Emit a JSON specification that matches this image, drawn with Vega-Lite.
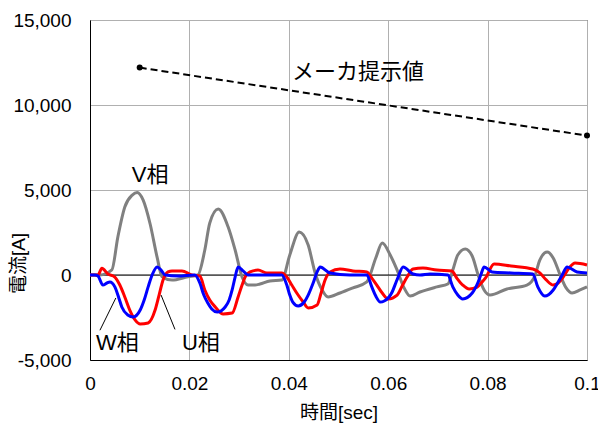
{
  "$schema": "https://vega.github.io/schema/vega-lite/v6.json",
  "width": 497,
  "height": 340,
  "autosize": "none",
  "padding": {"left": 90, "top": 20, "right": 11, "bottom": 66},
  "background": "white",
  "config": {
    "view": {"stroke": "#222", "strokeWidth": 1},
    "font": "Liberation Sans, Noto Sans CJK JP"
  },
  "datasets": {
    "waves": [
      {"s": "V", "t": 0, "y": 0}, {"s": "V", "t": 0.002, "y": 0}, {"s": "V", "t": 0.0044, "y": 300}, {"s": "V", "t": 0.0056, "y": 2230}, {"s": "V", "t": 0.007, "y": 4000}, {"s": "V", "t": 0.0085, "y": 4700}, {"s": "V", "t": 0.0095, "y": 4850}, {"s": "V", "t": 0.0107, "y": 4400}, {"s": "V", "t": 0.0121, "y": 3000}, {"s": "V", "t": 0.0135, "y": 1050}, {"s": "V", "t": 0.0145, "y": -100}, {"s": "V", "t": 0.0165, "y": -300}, {"s": "V", "t": 0.0197, "y": -100}, {"s": "V", "t": 0.0217, "y": 0},
      {"s": "V", "t": 0.0231, "y": 1470}, {"s": "V", "t": 0.0241, "y": 3060}, {"s": "V", "t": 0.0258, "y": 3880}, {"s": "V", "t": 0.0278, "y": 2820}, {"s": "V", "t": 0.0292, "y": 1470}, {"s": "V", "t": 0.0306, "y": -120}, {"s": "V", "t": 0.0318, "y": -590}, {"s": "V", "t": 0.0332, "y": -590}, {"s": "V", "t": 0.0342, "y": -530}, {"s": "V", "t": 0.0362, "y": -350}, {"s": "V", "t": 0.0386, "y": -300},
      {"s": "V", "t": 0.0402, "y": 1180}, {"s": "V", "t": 0.0421, "y": 2530}, {"s": "V", "t": 0.0439, "y": 1760}, {"s": "V", "t": 0.0453, "y": 120}, {"s": "V", "t": 0.0467, "y": -880}, {"s": "V", "t": 0.0479, "y": -1290}, {"s": "V", "t": 0.0503, "y": -1060}, {"s": "V", "t": 0.0529, "y": -760}, {"s": "V", "t": 0.0557, "y": -410},
      {"s": "V", "t": 0.0575, "y": 1000}, {"s": "V", "t": 0.0588, "y": 1880}, {"s": "V", "t": 0.0604, "y": 1180}, {"s": "V", "t": 0.0618, "y": 290}, {"s": "V", "t": 0.0632, "y": -760}, {"s": "V", "t": 0.0644, "y": -1240}, {"s": "V", "t": 0.0664, "y": -1000}, {"s": "V", "t": 0.0698, "y": -700}, {"s": "V", "t": 0.072, "y": -530},
      {"s": "V", "t": 0.073, "y": 290}, {"s": "V", "t": 0.074, "y": 1180}, {"s": "V", "t": 0.0755, "y": 1530}, {"s": "V", "t": 0.0769, "y": 1120}, {"s": "V", "t": 0.0781, "y": 0}, {"s": "V", "t": 0.0793, "y": -880}, {"s": "V", "t": 0.0805, "y": -1180}, {"s": "V", "t": 0.0839, "y": -820}, {"s": "V", "t": 0.0879, "y": -590},
      {"s": "V", "t": 0.0895, "y": -60}, {"s": "V", "t": 0.0905, "y": 880}, {"s": "V", "t": 0.092, "y": 1350}, {"s": "V", "t": 0.0932, "y": 1000}, {"s": "V", "t": 0.0946, "y": 0}, {"s": "V", "t": 0.0958, "y": -760}, {"s": "V", "t": 0.097, "y": -1060}, {"s": "V", "t": 0.0986, "y": -880}, {"s": "V", "t": 0.1, "y": -700},

      {"s": "U", "t": 0, "y": 0}, {"s": "U", "t": 0.0016, "y": 0}, {"s": "U", "t": 0.0024, "y": 400}, {"s": "U", "t": 0.0036, "y": 60}, {"s": "U", "t": 0.005, "y": -120}, {"s": "U", "t": 0.006, "y": -590}, {"s": "U", "t": 0.007, "y": -1290}, {"s": "U", "t": 0.008, "y": -2060}, {"s": "U", "t": 0.0091, "y": -2650}, {"s": "U", "t": 0.0101, "y": -2880}, {"s": "U", "t": 0.0117, "y": -2820}, {"s": "U", "t": 0.0131, "y": -2060}, {"s": "U", "t": 0.0139, "y": -1180}, {"s": "U", "t": 0.0147, "y": -290}, {"s": "U", "t": 0.0157, "y": 180}, {"s": "U", "t": 0.0165, "y": 240}, {"s": "U", "t": 0.0185, "y": 240}, {"s": "U", "t": 0.0205, "y": 0}, {"s": "U", "t": 0.0221, "y": -60},
      {"s": "U", "t": 0.0231, "y": -880}, {"s": "U", "t": 0.0241, "y": -1470}, {"s": "U", "t": 0.0252, "y": -1880}, {"s": "U", "t": 0.0268, "y": -2290}, {"s": "U", "t": 0.0286, "y": -2240}, {"s": "U", "t": 0.0298, "y": -1290}, {"s": "U", "t": 0.0306, "y": -590}, {"s": "U", "t": 0.0312, "y": -120}, {"s": "U", "t": 0.0322, "y": 180}, {"s": "U", "t": 0.0338, "y": 290}, {"s": "U", "t": 0.0356, "y": 120}, {"s": "U", "t": 0.0386, "y": 120},
      {"s": "U", "t": 0.0396, "y": -120}, {"s": "U", "t": 0.0406, "y": -590}, {"s": "U", "t": 0.0416, "y": -1060}, {"s": "U", "t": 0.0429, "y": -1590}, {"s": "U", "t": 0.0439, "y": -1940}, {"s": "U", "t": 0.0457, "y": -1760}, {"s": "U", "t": 0.0465, "y": -1060}, {"s": "U", "t": 0.0473, "y": -290}, {"s": "U", "t": 0.0483, "y": 180}, {"s": "U", "t": 0.0503, "y": 350}, {"s": "U", "t": 0.0529, "y": 240}, {"s": "U", "t": 0.0557, "y": 180},
      {"s": "U", "t": 0.0567, "y": -180}, {"s": "U", "t": 0.0577, "y": -590}, {"s": "U", "t": 0.0588, "y": -1060}, {"s": "U", "t": 0.06, "y": -1410}, {"s": "U", "t": 0.0618, "y": -1180}, {"s": "U", "t": 0.0628, "y": -650}, {"s": "U", "t": 0.0638, "y": -120}, {"s": "U", "t": 0.065, "y": 350}, {"s": "U", "t": 0.067, "y": 410}, {"s": "U", "t": 0.0698, "y": 290}, {"s": "U", "t": 0.0728, "y": 240},
      {"s": "U", "t": 0.0738, "y": -180}, {"s": "U", "t": 0.075, "y": -590}, {"s": "U", "t": 0.0763, "y": -820}, {"s": "U", "t": 0.0779, "y": -710}, {"s": "U", "t": 0.0789, "y": -410}, {"s": "U", "t": 0.0797, "y": -120}, {"s": "U", "t": 0.0813, "y": 650}, {"s": "U", "t": 0.0847, "y": 530}, {"s": "U", "t": 0.0891, "y": 350},
      {"s": "U", "t": 0.0905, "y": 120}, {"s": "U", "t": 0.0918, "y": -290}, {"s": "U", "t": 0.0932, "y": -590}, {"s": "U", "t": 0.0942, "y": -470}, {"s": "U", "t": 0.0952, "y": -120}, {"s": "U", "t": 0.0964, "y": 410}, {"s": "U", "t": 0.0976, "y": 700}, {"s": "U", "t": 0.1, "y": 590},

      {"s": "W", "t": 0, "y": 0}, {"s": "W", "t": 0.001, "y": 0}, {"s": "W", "t": 0.0016, "y": -60}, {"s": "W", "t": 0.0026, "y": -590}, {"s": "W", "t": 0.0034, "y": -470}, {"s": "W", "t": 0.004, "y": -410}, {"s": "W", "t": 0.005, "y": -700}, {"s": "W", "t": 0.0058, "y": -1350}, {"s": "W", "t": 0.0064, "y": -1880}, {"s": "W", "t": 0.0076, "y": -2350}, {"s": "W", "t": 0.0087, "y": -2470}, {"s": "W", "t": 0.0101, "y": -2060}, {"s": "W", "t": 0.0109, "y": -1470}, {"s": "W", "t": 0.0117, "y": -700}, {"s": "W", "t": 0.0125, "y": 0}, {"s": "W", "t": 0.0135, "y": 470}, {"s": "W", "t": 0.0143, "y": 290}, {"s": "W", "t": 0.0151, "y": 0}, {"s": "W", "t": 0.0177, "y": -60}, {"s": "W", "t": 0.0211, "y": 0},
      {"s": "W", "t": 0.0221, "y": -470}, {"s": "W", "t": 0.0229, "y": -1180}, {"s": "W", "t": 0.0237, "y": -1650}, {"s": "W", "t": 0.0245, "y": -2000}, {"s": "W", "t": 0.0256, "y": -2180}, {"s": "W", "t": 0.0272, "y": -1880}, {"s": "W", "t": 0.028, "y": -1470}, {"s": "W", "t": 0.0286, "y": -880}, {"s": "W", "t": 0.0292, "y": -120}, {"s": "W", "t": 0.0298, "y": 470}, {"s": "W", "t": 0.0308, "y": 240}, {"s": "W", "t": 0.0318, "y": 0}, {"s": "W", "t": 0.0386, "y": 0},
      {"s": "W", "t": 0.0396, "y": -590}, {"s": "W", "t": 0.0402, "y": -1180}, {"s": "W", "t": 0.0408, "y": -1590}, {"s": "W", "t": 0.0419, "y": -1820}, {"s": "W", "t": 0.0431, "y": -1590}, {"s": "W", "t": 0.0439, "y": -1180}, {"s": "W", "t": 0.0449, "y": -470}, {"s": "W", "t": 0.0457, "y": 180}, {"s": "W", "t": 0.0463, "y": 470}, {"s": "W", "t": 0.0483, "y": 120}, {"s": "W", "t": 0.0523, "y": 0}, {"s": "W", "t": 0.0557, "y": 0},
      {"s": "W", "t": 0.0567, "y": -700}, {"s": "W", "t": 0.0575, "y": -1240}, {"s": "W", "t": 0.0584, "y": -1590}, {"s": "W", "t": 0.0592, "y": -1530}, {"s": "W", "t": 0.0608, "y": -1000}, {"s": "W", "t": 0.0616, "y": -410}, {"s": "W", "t": 0.062, "y": -120}, {"s": "W", "t": 0.063, "y": 470}, {"s": "W", "t": 0.065, "y": 60}, {"s": "W", "t": 0.0664, "y": 0}, {"s": "W", "t": 0.0684, "y": 60}, {"s": "W", "t": 0.072, "y": 0},
      {"s": "W", "t": 0.073, "y": -700}, {"s": "W", "t": 0.074, "y": -1180}, {"s": "W", "t": 0.075, "y": -1410}, {"s": "W", "t": 0.0769, "y": -1060}, {"s": "W", "t": 0.0781, "y": -410}, {"s": "W", "t": 0.0787, "y": 60}, {"s": "W", "t": 0.0793, "y": 470}, {"s": "W", "t": 0.0809, "y": 180}, {"s": "W", "t": 0.0847, "y": 120}, {"s": "W", "t": 0.0891, "y": 60},
      {"s": "W", "t": 0.0901, "y": -700}, {"s": "W", "t": 0.0915, "y": -1240}, {"s": "W", "t": 0.0932, "y": -880}, {"s": "W", "t": 0.0942, "y": -410}, {"s": "W", "t": 0.095, "y": 0}, {"s": "W", "t": 0.096, "y": 470}, {"s": "W", "t": 0.098, "y": 180}, {"s": "W", "t": 0.1, "y": 120}
    ],
    "maker": [
      {"t": 0.01, "y": 12200},
      {"t": 0.1, "y": 8200}
    ],
    "labels": [
      {"t": 0.0121, "y": 5880, "text": "V相"},
      {"t": 0.0055, "y": -4000, "text": "W相"},
      {"t": 0.0223, "y": -4000, "text": "U相"},
      {"t": 0.0539, "y": 11940, "text": "メーカ提示値"}
    ],
    "leaders": [
      {"t": 0.002, "y": -3250, "t2": 0.0052, "y2": -1350},
      {"t": 0.0171, "y": -3200, "t2": 0.0143, "y2": -1180}
    ]
  },
  "layer": [
    {
      "data": {"values": [{"y": 0}]},
      "mark": {"type": "rule", "color": "black", "strokeWidth": 1},
      "encoding": {"y": {"field": "y", "type": "quantitative"}}
    },
    {
      "data": {"name": "waves"},
      "mark": {"type": "line", "strokeWidth": 3, "strokeJoin": "round", "interpolate": "monotone"},
      "encoding": {
        "x": {
          "field": "t", "type": "quantitative",
          "scale": {"domain": [0, 0.1], "nice": false},
          "axis": {
            "values": [0, 0.02, 0.04, 0.06, 0.08, 0.1],
            "format": ".2~f",
            "title": "時間[sec]",
            "titleFontSize": 19, "titleFontWeight": "normal", "titleColor": "black",
            "titleY": 52, "titleBaseline": "middle",
            "labelFontSize": 19, "labelColor": "black", "labelPadding": 14,
            "labelFlush": false,
            "ticks": false,
            "domainColor": "black", "domainWidth": 1,
            "grid": true, "gridColor": "#b0b0b0", "gridWidth": 1
          }
        },
        "y": {
          "field": "y", "type": "quantitative",
          "scale": {"domain": [-5000, 15000], "nice": false},
          "axis": {
            "values": [-5000, 0, 5000, 10000, 15000],
            "labelExpr": "datum.value < 0 ? '-' + format(-datum.value, ',') : format(datum.value, ',')",
            "title": "電流[A]",
            "titleFontSize": 19, "titleFontWeight": "normal", "titleColor": "black",
            "titleX": -72, "titleY": 243, "titleAngle": -90, "titleBaseline": "middle", "titleAlign": "center",
            "labelFontSize": 19, "labelColor": "black", "labelPadding": 19,
            "labelFlush": false,
            "ticks": false,
            "domainColor": "black", "domainWidth": 1,
            "grid": true, "gridColor": "#b0b0b0", "gridWidth": 1
          }
        },
        "color": {
          "field": "s", "type": "nominal",
          "scale": {"domain": ["V", "U", "W"], "range": ["#808080", "#ff0000", "#0000ff"]},
          "legend": null
        }
      }
    },
    {
      "data": {"name": "maker"},
      "mark": {"type": "line", "color": "black", "strokeWidth": 2, "strokeDash": [7, 4]},
      "encoding": {
        "x": {"field": "t", "type": "quantitative"},
        "y": {"field": "y", "type": "quantitative"}
      }
    },
    {
      "data": {"name": "maker"},
      "mark": {"type": "point", "filled": true, "color": "black", "size": 36, "opacity": 1},
      "encoding": {
        "x": {"field": "t", "type": "quantitative"},
        "y": {"field": "y", "type": "quantitative"}
      }
    },
    {
      "data": {"name": "leaders"},
      "mark": {"type": "rule", "color": "black", "strokeWidth": 1},
      "encoding": {
        "x": {"field": "t", "type": "quantitative"},
        "y": {"field": "y", "type": "quantitative"},
        "x2": {"field": "t2"},
        "y2": {"field": "y2"}
      }
    },
    {
      "data": {"name": "labels"},
      "mark": {"type": "text", "fontSize": 22, "color": "black", "align": "center", "baseline": "middle", "font": "Liberation Sans, Noto Sans CJK JP"},
      "encoding": {
        "x": {"field": "t", "type": "quantitative"},
        "y": {"field": "y", "type": "quantitative"},
        "text": {"field": "text"}
      }
    }
  ]
}
